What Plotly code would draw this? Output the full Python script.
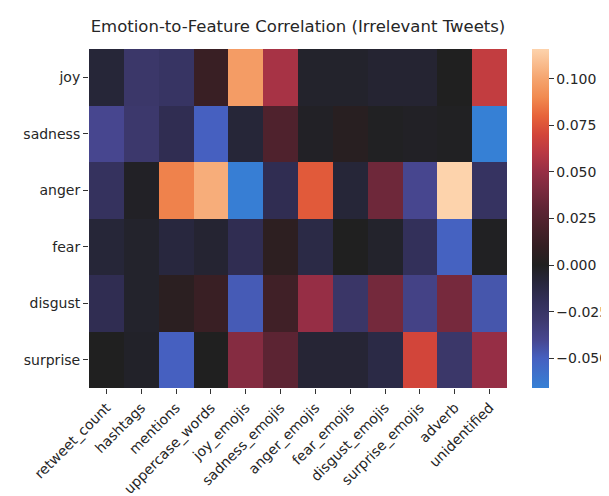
import plotly.graph_objects as go

emotions = ["joy", "sadness", "anger", "fear", "disgust", "surprise"]
features = ["retweet_count", "hashtags", "mentions", "uppercase_words", "joy_emojis",
            "sadness_emojis", "anger_emojis", "fear_emojis", "disgust_emojis",
            "surprise_emojis", "adverb", "unidentified"]

joy      = [-0.008, -0.027, -0.024, 0.013, 0.097, 0.055, -0.004, -0.004, -0.006, -0.006, 0.000, 0.064]
sadness  = [-0.040, -0.028, -0.017, -0.050, -0.008, 0.023, -0.002, 0.004, -0.001, -0.002, -0.001, -0.066]
anger    = [-0.022, -0.002, 0.088, 0.103, -0.065, -0.017, 0.077, -0.008, 0.036, -0.040, 0.116, -0.023]
fear     = [-0.008, -0.004, -0.010, -0.006, -0.017, 0.007, -0.013, 0.000, -0.004, -0.020, -0.051, -0.001]
disgust  = [-0.017, -0.004, 0.006, 0.013, -0.048, 0.016, 0.050, -0.026, 0.038, -0.037, 0.039, -0.046]
surprise = [0.000, -0.003, -0.050, 0.000, 0.044, 0.029, -0.007, -0.007, -0.013, 0.070, -0.027, 0.050]

z = [joy, sadness, anger, fear, disgust, surprise]

zmin, zmax = -0.066, 0.116
stops = [(-0.066, "#3680d5"), (-0.05, "#4660c0"), (-0.04, "#47468f"), (-0.03, "#3e3a70"),
         (-0.02, "#33305a"), (-0.01, "#28273e"), (0.0, "#202020"), (0.01, "#331e22"),
         (0.02, "#48212a"), (0.03, "#5e2434"), (0.04, "#792a3e"), (0.05, "#962e45"),
         (0.06, "#b83744"), (0.07, "#d2453a"), (0.08, "#e7633a"), (0.09, "#f18a50"),
         (0.10, "#f5a46e"), (0.116, "#fdd3ac")]
colorscale = [[(v - zmin) / (zmax - zmin), c] for v, c in stops]

cb_vals = [-0.05, -0.025, 0.0, 0.025, 0.05, 0.075, 0.1]
cb_text = [("\u2212" if v < 0 else "") + f"{abs(v):.3f}" for v in cb_vals]

L, R, T, B = 81, 499, 41, 380
W, H = 609, 496

fig = go.Figure(go.Heatmap(
    z=z, x=features, y=emotions, zmin=zmin, zmax=zmax, colorscale=colorscale,
    xgap=0, ygap=0,
    colorbar=dict(x=(524 - L) / (R - L), xanchor="left", xpad=0, ypad=0,
                  y=0.5, yanchor="middle", len=1.0, lenmode="fraction",
                  thickness=17, outlinewidth=0, tickvals=cb_vals, ticktext=cb_text,
                  ticks="outside", ticklen=5, tickcolor="#333", tickfont=dict(size=14, color="#262626")),
))

fig.update_layout(
    width=W, height=H,
    margin=dict(l=L, r=W - R, t=T, b=H - B, autoexpand=False),
    paper_bgcolor="white", plot_bgcolor="white",
    font=dict(family="DejaVu Sans", size=14, color="#262626"),
    title=dict(text="Emotion-to-Feature Correlation (Irrelevant Tweets)", x=(L + R) / 2 / W,
               xanchor="center", y=1 - 18 / H, yanchor="middle", font=dict(size=16.5, color="#262626")),
)
fig.update_xaxes(tickangle=-45, ticks="outside", ticklen=5, tickcolor="#333", showgrid=False,
                 tickfont=dict(size=14))
fig.update_yaxes(autorange="reversed", ticks="outside", ticklen=5, tickcolor="#333", showgrid=False,
                 tickfont=dict(size=14))

fig.write_html("out.html")
